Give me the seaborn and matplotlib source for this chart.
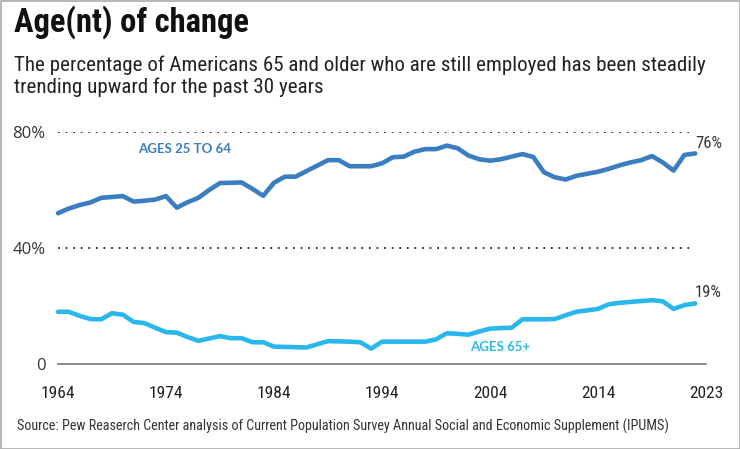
import matplotlib
matplotlib.use("Agg")
import matplotlib.pyplot as plt
import seaborn as sns
import pandas as pd
from matplotlib.patches import Rectangle

years = list(range(1964, 2024))
ages_25_64 = [52.0, 53.6, 54.8, 55.7, 57.3, 57.6, 57.9, 56.0, 56.3, 56.7,
              57.9, 53.9, 55.8, 57.3, 60.0, 62.4, 62.5, 62.6, 60.4, 58.0,
              62.5, 64.6, 64.6, 66.5, 68.4, 70.3, 70.3, 68.2, 68.2, 68.2,
              69.2, 71.3, 71.5, 73.2, 74.1, 74.1, 75.3, 74.4, 71.9, 70.6,
              70.1, 70.6, 71.5, 72.4, 71.4, 66.1, 64.4, 63.6, 64.9, 65.6,
              66.3, 67.3, 68.5, 69.5, 70.3, 71.7, 69.5, 66.7, 72.1, 72.6]
ages_65_plus = [18.0, 18.0, 16.6, 15.5, 15.4, 17.5, 17.0, 14.5, 14.1, 12.5,
                11.0, 10.8, 9.3, 8.0, 8.8, 9.6, 8.9, 8.9, 7.5, 7.5,
                6.0, 5.9, 5.8, 5.7, 6.8, 7.9, 7.8, 7.7, 7.5, 5.3,
                7.7, 7.7, 7.7, 7.7, 7.7, 8.5, 10.6, 10.4, 10.1, 11.2,
                12.2, 12.4, 12.5, 15.4, 15.4, 15.4, 15.5, 16.8, 18.0, 18.5,
                19.0, 20.6, 21.1, 21.4, 21.7, 22.0, 21.6, 19.0, 20.3, 20.9]
series_names = ["AGES 25 TO 64", "AGES 65+"]
end_labels = ["76%", "19%"]
x_tick_pos = [1964, 1974, 1984, 1994, 2004, 2014, 2024]
x_tick_labels = ["1964", "1974", "1984", "1994", "2004", "2014", "2023"]
y_ticks = [0, 40, 80]
y_tick_labels = ["0", "40%", "80%"]

df = pd.DataFrame({
    "year": years * 2,
    "value": ages_25_64 + ages_65_plus,
    "group": [series_names[0]] * len(years) + [series_names[1]] * len(years),
})

sns.set_style("white")
COND = ["Roboto Condensed", "DejaVu Sans"]
plt.rcParams["font.family"] = COND

colors = {series_names[0]: "#3b7dc1", series_names[1]: "#2ab8ec"}

fig = plt.figure(figsize=(7.40, 4.49), dpi=100)
ax = fig.add_axes([58 / 740, 1 - 364 / 449, (706 - 58) / 740, (364 - 132) / 449])

sns.lineplot(data=df, x="year", y="value", hue="group", palette=colors,
             linewidth=3.3, legend=False, ax=ax, solid_joinstyle="round",
             solid_capstyle="round", clip_on=False)

ax.set_xlim(1964, 2024)
ax.set_ylim(0, 80)

for y in [40, 80]:
    ax.hlines(y, 1964, 2023, colors="#222222", linestyles=(0, (1, 3.2)),
              linewidth=1.3, zorder=0)

for s in ["top", "right", "left"]:
    ax.spines[s].set_visible(False)
ax.spines["bottom"].set_color("#777777")
ax.spines["bottom"].set_linewidth(1.2)

ax.set_xticks(x_tick_pos)
ax.set_xticklabels(x_tick_labels, fontsize=12.5, color="#222222")
ax.tick_params(axis="x", direction="out", length=6, width=1.2, color="#777777", pad=10)
ax.set_yticks(y_ticks)
ax.set_yticklabels(y_tick_labels, fontsize=12, color="#333333", family=["Open Sans", "DejaVu Sans"])
ax.tick_params(axis="y", length=0, pad=9)
ax.set_xlabel("")
ax.set_ylabel("")
ax.grid(False)

ax.text(1975.7, 74.1, series_names[0], color=colors[series_names[0]], fontsize=9.5,
        fontweight="bold", ha="center", va="center", family=["Lato", "DejaVu Sans"])
ax.text(2004.9, 5.9, series_names[1], color=colors[series_names[1]], fontsize=9.5,
        fontweight="bold", ha="center", va="center", family=["Lato", "DejaVu Sans"])
ax.text(2023.0, 76.2, end_labels[0], color="#333333", fontsize=12, ha="left", va="center")
ax.text(2023.0, 24.8, end_labels[1], color="#333333", fontsize=12, ha="left", va="center")

fig.text(14 / 740, 1 - 22 / 449, "Age(nt) of change", fontsize=23.5, fontweight="bold",
         color="#111111", ha="left", va="center")
fig.text(14 / 740, 1 - 65 / 449,
         "The percentage of Americans 65 and older who are still employed has been steadily",
         fontsize=15.1, color="#222222", ha="left", va="center")
fig.text(14 / 740, 1 - 87 / 449, "trending upward for the past 30 years",
         fontsize=15.1, color="#222222", ha="left", va="center")
fig.text(17 / 740, 1 - 426 / 449,
         "Source: Pew Reaserch Center analysis of Current Population Survey Annual Social and Economic Supplement (IPUMS)",
         fontsize=10.2, color="#333333", ha="left", va="center")

fig.patches.append(Rectangle((0.5 / 740, 0.5 / 449), 739 / 740, 448 / 449,
                             transform=fig.transFigure, fill=False,
                             edgecolor="#aaaaaa", linewidth=1.2))

fig.savefig("out.png", dpi=100)
